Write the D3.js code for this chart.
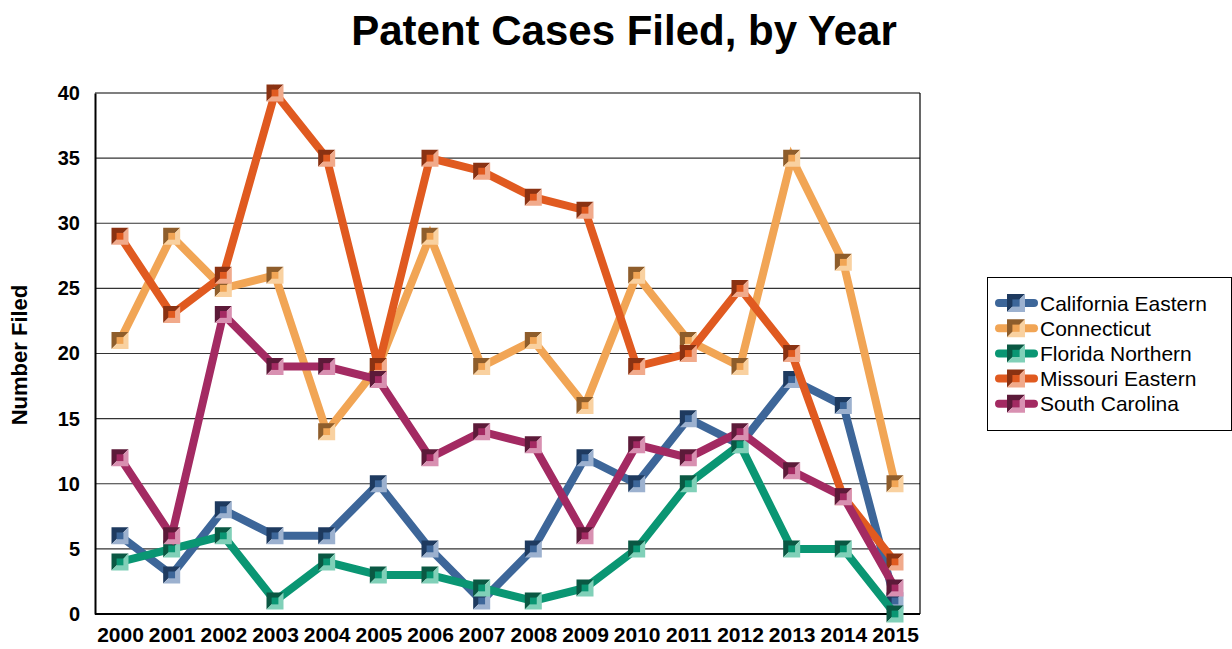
<!DOCTYPE html>
<html>
<head>
<meta charset="utf-8">
<script src="https://cdn.jsdelivr.net/npm/d3@7"></script>
<style>
  body { margin: 0; background: #fff; }
  text { font-family: "Liberation Sans", Arial, sans-serif; }
</style>
</head>
<body>
<div id="container"></div>
<script>
// chart size
const width = 1232;
const height = 649;

// data
const years = [2000, 2001, 2002, 2003, 2004, 2005, 2006, 2007, 2008, 2009, 2010, 2011, 2012, 2013, 2014, 2015];
const seriesNames = ["California Eastern", "Connecticut", "Florida Northern", "Missouri Eastern", "South Carolina"];
const californiaEastern = [6, 3, 8, 6, 6, 10, 5, 1, 5, 12, 10, 15, 13, 18, 16, 1];
const connecticut = [21, 29, 25, 26, 14, 19, 29, 19, 21, 16, 26, 21, 19, 35, 27, 10];
const floridaNorthern = [4, 5, 6, 1, 4, 3, 3, 2, 1, 2, 5, 10, 13, 5, 5, 0];
const missouriEastern = [29, 23, 26, 40, 35, 19, 35, 34, 32, 31, 19, 20, 25, 20, 9, 4];
const southCarolina = [12, 6, 23, 19, 19, 18, 12, 14, 13, 6, 13, 12, 14, 11, 9, 2];
const yTicks = [0, 5, 10, 15, 20, 25, 30, 35, 40];

// colours: line, dark bevel, light bevel
const colors = [
  { line: "#3d6699", dark: "#1e3a5f", light: "#9cb1cf" },
  { line: "#f1a555", dark: "#8e5d2b", light: "#f9d1a0" },
  { line: "#0a9673", dark: "#0a5843", light: "#80d0b8" },
  { line: "#e05a20", dark: "#8a3212", light: "#f1aa8b" },
  { line: "#a32a62", dark: "#5c1a39", light: "#d890b1" }
];

const allSeries = [californiaEastern, connecticut, floridaNorthern, missouriEastern, southCarolina];

const plot = { left: 95, right: 920, top: 93, bottom: 614 };

const svg = d3.select('#container')
  .append('svg')
  .attr('width', width)
  .attr('height', height);

const x = d3.scalePoint()
  .domain(years)
  .range([120, 895]);

const y = d3.scaleLinear()
  .domain([0, 40])
  .range([plot.bottom, plot.top]);

// title
svg.append('text')
  .attr('x', 624)
  .attr('y', 45)
  .attr('text-anchor', 'middle')
  .style('font-size', '42px')
  .style('font-weight', 'bold')
  .text('Patent Cases Filed, by Year');

// gridlines
svg.selectAll('.grid')
  .data(yTicks.filter(d => d > 0))
  .enter().append('line')
  .attr('x1', plot.left)
  .attr('x2', plot.right)
  .attr('y1', d => y(d))
  .attr('y2', d => y(d))
  .style('stroke', d => d === 40 ? '#000' : '#333')
  .style('stroke-width', 1.2);

// right border
svg.append('line')
  .attr('x1', plot.right).attr('x2', plot.right)
  .attr('y1', plot.top).attr('y2', plot.bottom)
  .style('stroke', '#000').style('stroke-width', 1.2);

// y axis
const yAxis = svg.append('g')
  .attr('transform', `translate(${plot.left},0)`)
  .call(d3.axisLeft(y).tickValues(yTicks).tickSize(0).tickPadding(15));
yAxis.select('.domain').style('stroke', '#000').style('stroke-width', 2);
yAxis.selectAll('text')
  .style('font-size', '20px')
  .style('font-weight', 'bold')
  .style('font-family', '"Liberation Sans", Arial, sans-serif')
  .attr('fill', '#000');

// x axis
const xAxis = svg.append('g')
  .attr('transform', `translate(0,${plot.bottom})`)
  .call(d3.axisBottom(x).tickSize(0).tickPadding(13));
xAxis.select('.domain').attr('d', `M${plot.left},0H${plot.right}`)
  .style('stroke', '#000').style('stroke-width', 2);
xAxis.selectAll('text')
  .style('font-size', '21px')
  .style('font-weight', 'bold')
  .style('font-family', '"Liberation Sans", Arial, sans-serif')
  .attr('fill', '#000');

// y axis title
svg.append('text')
  .attr('transform', `translate(27,355) rotate(-90)`)
  .attr('text-anchor', 'middle')
  .style('font-size', '22px')
  .style('font-weight', 'bold')
  .text('Number Filed');

// bevelled square marker
function drawMarker(g, cx, cy, c, s) {
  const h = s / 2;
  g.append('path')
    .attr('d', `M${cx - h},${cy - h}L${cx + h},${cy - h}L${cx - h},${cy + h}Z`)
    .style('fill', c.dark);
  g.append('path')
    .attr('d', `M${cx + h},${cy - h}L${cx + h},${cy + h}L${cx - h},${cy + h}Z`)
    .style('fill', c.light);
  g.append('rect')
    .attr('x', cx - h * 0.4).attr('y', cy - h * 0.4)
    .attr('width', h * 0.8).attr('height', h * 0.8)
    .style('fill', c.line);
}

const line = d3.line()
  .x((d, i) => x(years[i]))
  .y(d => y(d));

allSeries.forEach((vals, si) => {
  const g = svg.append('g');
  g.append('path')
    .attr('d', line(vals))
    .style('fill', 'none')
    .style('stroke', colors[si].line)
    .style('stroke-width', 8)
    .style('stroke-linejoin', 'miter');
  vals.forEach((v, i) => drawMarker(g, x(years[i]), y(v), colors[si], 17));
});

// legend
svg.append('rect')
  .attr('x', 987.5).attr('y', 277.5)
  .attr('width', 244).attr('height', 153)
  .style('fill', '#fff')
  .style('stroke', '#000')
  .style('stroke-width', 1);

seriesNames.forEach((name, i) => {
  const ly = 303 + i * 25.2;
  const g = svg.append('g');
  g.append('line')
    .attr('x1', 999).attr('x2', 1034)
    .attr('y1', ly).attr('y2', ly)
    .style('stroke', colors[i].line)
    .style('stroke-width', 8)
    .style('stroke-linecap', 'round');
  drawMarker(g, 1016, ly, colors[i], 18);
  g.append('text')
    .attr('x', 1040)
    .attr('y', ly + 7.5)
    .style('font-size', '21px')
    .text(name);
});
</script>
</body>
</html>
